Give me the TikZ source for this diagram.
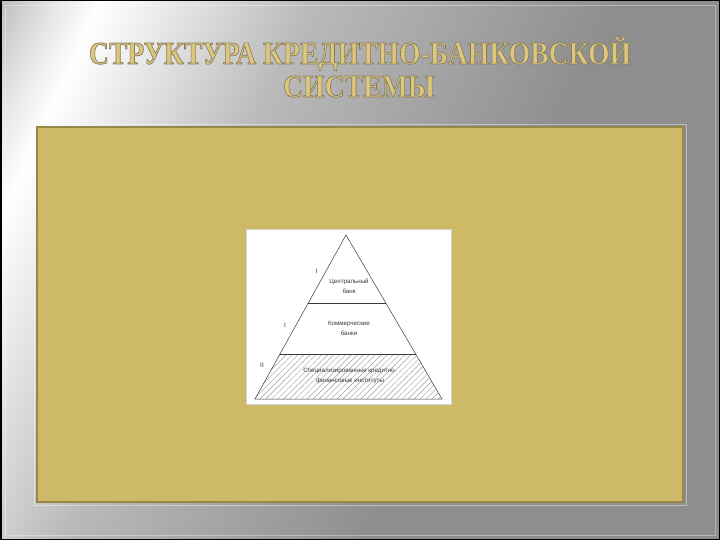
\documentclass[tikz,border=0pt]{standalone}
\usepackage{fontspec}
\setmainfont{Liberation Serif}
\newfontfamily\smallsans{Liberation Sans}
\usetikzlibrary{patterns.meta}
\definecolor{bgA}{HTML}{A8A8A8}
\definecolor{bgB}{HTML}{E6E6E6}
\definecolor{bgD}{HTML}{BABABA}
\definecolor{bgE}{HTML}{8E8E8E}
\definecolor{goldbox}{HTML}{CEBA66}
\definecolor{boxedge}{HTML}{978846}
\definecolor{titlegold}{HTML}{DCC77C}
\definecolor{inktext}{HTML}{3A3A3A}
\newcommand{\outlinedtitle}[1]{\special{pdf:code 2 Tr 0.7 w 0.52 0.48 0.36 RG}#1\special{pdf:code 0 Tr}}
\tikzset{
  titletext/.style={font=\fontsize{32}{34}\selectfont\bfseries, text=titlegold, inner sep=0pt, anchor=base},
  pyrtext/.style={font=\smallsans\fontsize{6.2}{10}\selectfont, text=inktext, align=center, inner sep=0pt},
  levellabel/.style={font=\smallsans\fontsize{6.5}{7}\selectfont, text=inktext, inner sep=0pt},
  pyrline/.style={draw=inktext, line width=0.5pt}
}
\begin{document}
\begin{tikzpicture}[x=1pt,y=-1pt]
\useasboundingbox (0,0) rectangle (720,540);
% background
\begin{scope}
  \clip (0,0) rectangle (720,540);
  \fill[bgE] (0,0) rectangle (720,540);
  \begin{scope}[transform canvas={shift={(90,0)},rotate=-25}]
    \fill[bgA] (-600,-400) rectangle (-109,1100);
    \shade[left color=bgA,right color=bgB] (-110,-400) rectangle (-29,1100);
    \shade[left color=bgB,right color=white] (-30,-400) rectangle (11,1100);
    \shade[left color=white,right color=bgD] (10,-400) rectangle (201,1100);
    \shade[left color=bgD,right color=bgE] (200,-400) rectangle (481,1100);
    \fill[bgE] (480,-400) rectangle (1200,1100);
  \end{scope}
\end{scope}
\draw[white, opacity=0.35, line width=0.8pt] (5,5) rectangle (715,535);
\draw[black, line width=1.5pt] (0.75,0.75) rectangle (719.25,539.25);
% title
\node[titletext] (t1) at (360,64) {\outlinedtitle{\scalebox{0.865}[1]{СТРУКТУРА КРЕДИТНО-БАНКОВСКОЙ}}};
\node[titletext] (t2) at (359,97) {\outlinedtitle{\scalebox{0.865}[1]{СИСТЕМЫ}}};
% gold box
\draw[white, opacity=0.4, line width=0.8pt] (34,124) rectangle (686,505);
\fill[goldbox] (37,127) rectangle (683,502);
\draw[boxedge, line width=1.5pt] (37,127) rectangle (683,502);
% picture
\fill[white] (246,229) rectangle (451,404);
\draw[gray!35, line width=0.5pt] (246,229) rectangle (451,404);
\coordinate (apex) at (346,235);
\coordinate (bl) at (255,399);
\coordinate (br) at (442,399);
\coordinate (l1) at (308.3,303);
\coordinate (r1) at (385.8,303);
\coordinate (l2) at (280,354);
\coordinate (r2) at (415.7,354);
\fill[pattern={Lines[angle=45,distance=4.2pt,line width=0.45pt]}, pattern color=gray!75] (l2) -- (r2) -- (br) -- (bl) -- cycle;
\draw[pyrline] (apex) -- (br) -- (bl) -- cycle;
\draw[pyrline] (l1) -- (r1);
\draw[pyrline] (l2) -- (r2);
\node[pyrtext] (cb) at (349,286) {Центральный\\банк};
\node[pyrtext] (kb) at (349,328) {Коммерческие\\банки};
\node[pyrtext] (sk) at (350,376) {Специализированные кредитно-\\финансовые институты};
\node[levellabel] (lab1) at (316.5,271) {I};
\node[levellabel] (lab2) at (285,325) {I};
\node[levellabel] (lab3) at (262,365) {II};
\end{tikzpicture}
\end{document}
